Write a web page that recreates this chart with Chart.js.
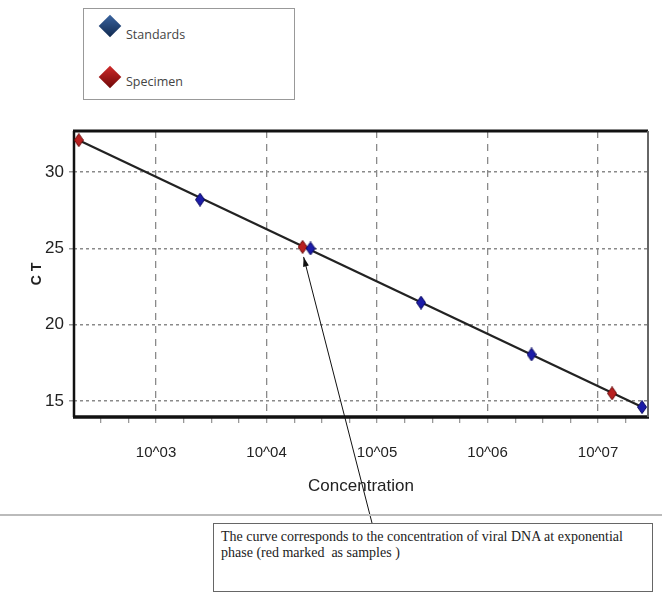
<!DOCTYPE html>
<html>
<head>
<meta charset="utf-8">
<script src="https://cdn.jsdelivr.net/npm/chart.js@4.4.0/dist/chart.umd.min.js"></script>
<style>
body { margin: 0; background: #fff; }
#wrap { position: relative; width: 662px; height: 594px; overflow: hidden; }
#chart { position: absolute; left: 0; top: 0; }
.legend { position: absolute; left: 83px; top: 8px; width: 210px; height: 90px; border: 1px solid #999; background: #fff; }
.dia { position: absolute; width: 16px; height: 16px; transform: rotate(45deg); }
.lab { position: absolute; font-family: 'Open Sans', sans-serif; font-size: 12.5px; line-height: 16px; color: #444; }
.rule { position: absolute; left: 0; top: 514px; width: 662px; height: 2px; background: #bbb; }
.note { position: absolute; left: 213px; top: 523px; width: 424px; height: 57px; padding: 5px 7px; border: 1px solid #666; background: #fff;
        font-family: 'Liberation Serif', serif; font-size: 14px; line-height: 16px; color: #222; }
</style>
</head>
<body>
<div id="wrap">
  <canvas id="chart" width="662" height="594"></canvas>
  <div class="legend"></div>
  <div class="dia" style="left:102px;top:18px;background:linear-gradient(135deg,#3a64a0,#10294f);"></div>
  <div class="lab" style="left:126px;top:27px;">Standards</div>
  <div class="dia" style="left:102px;top:69px;background:linear-gradient(135deg,#d02a2a,#6e0808);"></div>
  <div class="lab" style="left:126px;top:74px;">Specimen</div>
  <div class="rule"></div>
  <div class="note">The curve corresponds to the concentration of viral DNA at exponential phase (red marked&nbsp; as samples )</div>
</div>
<script>
// standards (blue) and specimens (red), concentration vs CT
const standardConc = [2500, 25000, 250000, 2500000, 25000000];
const standardCt = [28.2, 25.0, 21.45, 18.05, 14.6];
const specimenConc = [200, 21200, 13400000];
const specimenCt = [32.1, 25.1, 15.5];
// standard curve end points
const curveConc = [200, 25000000];
const curveCt = [32.1, 14.6];

const yTicks = [15, 20, 25, 30];
const xMajorExp = [2, 3, 4, 5, 6, 7];
const xMinorPerDecade = 4;
const xMin = 181, xMax = 28300000;
const yMin = 13.95, yMax = 32.7;

const numFont = 'Liberation Sans, sans-serif';

function isMajor(v) {
  const l = Math.log10(v);
  return Math.abs(l - Math.round(l)) < 1e-6;
}

function diamond(fill, edge) {
  const c = document.createElement('canvas');
  c.width = 10; c.height = 14;
  const g = c.getContext('2d');
  g.beginPath();
  g.moveTo(5, 0.5); g.lineTo(9.5, 7); g.lineTo(5, 13.5); g.lineTo(0.5, 7);
  g.closePath();
  g.fillStyle = fill; g.fill();
  g.strokeStyle = edge; g.lineWidth = 1; g.stroke();
  return c;
}

const toPts = (xs, ys) => xs.map((x, i) => ({ x: x, y: ys[i] }));

const frame = {
  id: 'frame',
  beforeDatasetsDraw(chart) {
    const { ctx, chartArea: a } = chart;
    ctx.save();
    ctx.strokeStyle = '#111';
    ctx.lineWidth = 3;
    ctx.beginPath(); ctx.moveTo(a.left - 1, a.top); ctx.lineTo(a.right, a.top); ctx.stroke();
    ctx.lineWidth = 2.5;
    ctx.beginPath(); ctx.moveTo(a.left, a.top); ctx.lineTo(a.left, a.bottom); ctx.stroke();
    ctx.lineWidth = 3.5;
    ctx.beginPath(); ctx.moveTo(a.left - 1, a.bottom); ctx.lineTo(a.right + 1, a.bottom); ctx.stroke();
    ctx.strokeStyle = '#666';
    ctx.lineWidth = 2;
    ctx.beginPath(); ctx.moveTo(a.right, a.top); ctx.lineTo(a.right, a.bottom); ctx.stroke();
    ctx.restore();
  }
};

const arrow = {
  id: 'arrow',
  afterDraw(chart) {
    const p = chart.getDatasetMeta(1).data[1];
    const tx = p.x + 1, ty = p.y + 10;
    const sx = 372, sy = 523;
    const { ctx } = chart;
    const ang = Math.atan2(ty - sy, tx - sx);
    ctx.save();
    ctx.strokeStyle = '#111';
    ctx.fillStyle = '#111';
    ctx.lineWidth = 1;
    ctx.beginPath(); ctx.moveTo(sx, sy); ctx.lineTo(tx, ty); ctx.stroke();
    ctx.beginPath();
    ctx.moveTo(tx, ty);
    ctx.lineTo(tx - 10 * Math.cos(ang - 0.3), ty - 10 * Math.sin(ang - 0.3));
    ctx.lineTo(tx - 10 * Math.cos(ang + 0.3), ty - 10 * Math.sin(ang + 0.3));
    ctx.closePath(); ctx.fill();
    ctx.restore();
  }
};

new Chart(document.getElementById('chart'), {
  type: 'scatter',
  data: {
    datasets: [
      {
        label: 'Standards',
        data: toPts(standardConc, standardCt),
        pointStyle: diamond('#1c1ca8', '#0a0a60'),
        pointRadius: 6
      },
      {
        label: 'Specimen',
        data: toPts(specimenConc, specimenCt),
        pointStyle: diamond('#b82020', '#6a0a0a'),
        pointRadius: 6
      },
      {
        label: 'Standard curve',
        data: toPts(curveConc, curveCt),
        showLine: true,
        borderColor: '#222',
        borderWidth: 2.2,
        pointRadius: 0
      }
    ]
  },
  options: {
    responsive: false,
    animation: false,
    layout: { padding: { top: 131, left: 0, right: 14, bottom: 93 } },
    plugins: { legend: { display: false }, tooltip: { enabled: false } },
    scales: {
      x: {
        type: 'logarithmic',
        position: 'bottom',
        min: xMin,
        max: xMax,
        afterBuildTicks: (s) => {
          const t = [];
          xMajorExp.forEach(e => {
            for (let k = 0; k < xMinorPerDecade; k++) {
              const v = Math.pow(10, e + k / xMinorPerDecade);
              if (v >= xMin && v <= xMax) t.push({ value: v });
            }
          });
          s.ticks = t;
        },
        afterFit: (s) => { s.height = 84; },
        ticks: {
          autoSkip: false,
          maxRotation: 0,
          padding: 21,
          color: '#222',
          font: { family: numFont, size: 15 },
          callback: (v) => isMajor(v) ? '10^0' + Math.round(Math.log10(v)) : ''
        },
        grid: {
          color: (c) => (c.tick && isMajor(c.tick.value)) ? '#8a8a8a' : 'rgba(0,0,0,0)',
          lineWidth: 1.3,
          tickColor: '#999',
          tickLength: 6
        },
        border: { display: false, dash: [7, 6] },
        title: {
          display: true,
          text: 'Concentration',
          color: '#222',
          font: { family: numFont, size: 17 },
          padding: { top: 0, bottom: 4 }
        }
      },
      y: {
        type: 'linear',
        min: yMin,
        max: yMax,
        afterBuildTicks: (s) => { s.ticks = yTicks.map(v => ({ value: v })); },
        afterFit: (s) => { s.width = 74; },
        ticks: {
          padding: 5,
          color: '#222',
          font: { family: numFont, size: 17 }
        },
        grid: {
          color: '#8a8a8a',
          lineWidth: 1.5,
          tickColor: '#999',
          tickLength: 5
        },
        border: { display: false, dash: [3, 3] },
        title: {
          display: true,
          text: 'C T',
          color: '#222',
          font: { family: numFont, size: 14, weight: 'bold' },
          padding: { top: 29, bottom: 0 }
        }
      }
    }
  },
  plugins: [frame, arrow]
});
</script>
</body>
</html>
